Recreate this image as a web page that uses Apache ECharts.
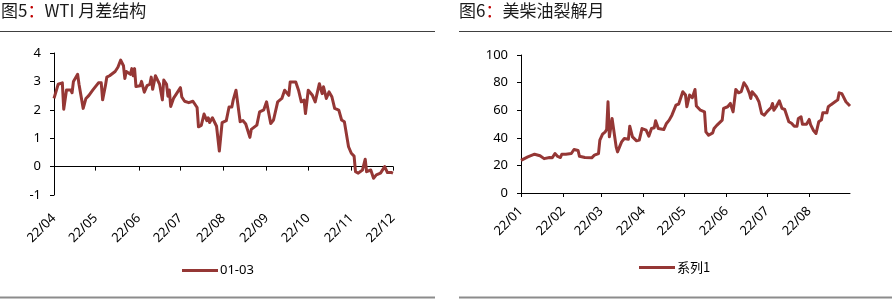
<!DOCTYPE html>
<html><head><meta charset="utf-8">
<script src="https://cdn.jsdelivr.net/npm/echarts@6/dist/echarts.min.js"></script>
<style>html,body{margin:0;padding:0;background:#fff}#c{width:892px;height:300px}</style>
</head><body><div id="c"></div>
<script>
// ---------- Chart 5: WTI month spread (01-03) ----------
const wtiDates = [
'2022-04-01','2022-04-04','2022-04-07','2022-04-08','2022-04-10','2022-04-13','2022-04-14','2022-04-15','2022-04-18','2022-04-19','2022-04-22','2022-04-24','2022-04-26','2022-04-29','2022-04-30',
'2022-05-03','2022-05-05','2022-05-06','2022-05-08','2022-05-09','2022-05-11','2022-05-15','2022-05-17','2022-05-19','2022-05-21','2022-05-22','2022-05-23','2022-05-26','2022-05-27','2022-05-28','2022-05-29','2022-05-30',
'2022-06-02','2022-06-03','2022-06-05','2022-06-07','2022-06-09','2022-06-10','2022-06-11','2022-06-13','2022-06-15','2022-06-16','2022-06-18','2022-06-19','2022-06-21','2022-06-22','2022-06-23','2022-06-24','2022-06-26','2022-06-28',
'2022-07-01','2022-07-02','2022-07-04','2022-07-07','2022-07-08','2022-07-10','2022-07-13','2022-07-14','2022-07-16','2022-07-18','2022-07-20','2022-07-21','2022-07-22','2022-07-24','2022-07-25','2022-07-27','2022-07-29','2022-07-31',
'2022-08-03','2022-08-05','2022-08-07','2022-08-08','2022-08-10','2022-08-13','2022-08-15','2022-08-17','2022-08-20','2022-08-21','2022-08-25','2022-08-27','2022-08-30',
'2022-09-01','2022-09-04','2022-09-06','2022-09-09','2022-09-12','2022-09-14','2022-09-17','2022-09-18','2022-09-22','2022-09-24','2022-09-26','2022-09-28','2022-09-29',
'2022-10-01','2022-10-04','2022-10-06','2022-10-09','2022-10-11','2022-10-12','2022-10-14','2022-10-16','2022-10-18','2022-10-20','2022-10-23','2022-10-25','2022-10-27','2022-10-30',
'2022-11-01','2022-11-03','2022-11-04','2022-11-06','2022-11-09','2022-11-11','2022-11-12','2022-11-15','2022-11-17','2022-11-19','2022-11-22','2022-11-25','2022-11-27','2022-11-30','2022-12-01'
];
const wtiValues = [
2.40,2.90,2.95,2.02,2.70,2.70,2.60,3.00,3.25,2.90,2.05,2.40,2.50,2.70,2.75,
2.95,2.95,2.35,2.85,3.15,3.20,3.35,3.50,3.75,3.55,3.10,3.35,3.25,3.45,3.20,3.45,2.82,
2.85,3.00,2.62,2.85,2.90,3.15,2.72,3.20,3.00,2.90,2.35,3.05,2.90,2.48,2.70,2.12,2.40,2.55,
2.78,2.45,2.30,2.25,2.20,2.30,2.08,1.40,1.45,1.85,1.62,1.72,1.55,1.72,1.70,1.42,0.55,1.55,
1.62,2.10,2.10,2.35,2.69,1.58,1.62,1.50,1.03,1.31,1.46,1.93,2.00,
2.28,1.52,1.64,2.28,2.40,2.69,2.51,2.98,2.98,2.69,2.28,2.34,1.87,
2.69,2.51,2.28,2.92,2.57,2.81,2.40,2.63,2.46,2.05,1.99,1.64,1.58,0.70,
0.47,0.37,-0.18,-0.23,-0.12,0.26,-0.18,-0.12,-0.41,-0.29,-0.23,0.00,-0.21,-0.21,-0.23
];
const wtiTickDates = ['2022-04-01','2022-05-01','2022-06-01','2022-07-01','2022-08-01','2022-09-01','2022-10-01','2022-11-01','2022-12-01'];
const wtiTickLabels = ['22/04','22/05','22/06','22/07','22/08','22/09','22/10','22/11','22/12'];
const wtiYTicks = {min: -1, max: 4, interval: 1};

// ---------- Chart 6: US diesel crack ----------
const crackDates = [
'2022-01-01','2022-01-06','2022-01-11','2022-01-15','2022-01-18','2022-01-22','2022-01-24','2022-01-26','2022-01-28','2022-01-30','2022-01-31',
'2022-02-03','2022-02-07','2022-02-09','2022-02-12','2022-02-13','2022-02-17','2022-02-22','2022-02-24','2022-02-27','2022-02-28',
'2022-03-02','2022-03-04','2022-03-05','2022-03-06','2022-03-07','2022-03-09','2022-03-10','2022-03-12','2022-03-13','2022-03-16','2022-03-18','2022-03-21','2022-03-22','2022-03-24','2022-03-27','2022-03-29','2022-03-31',
'2022-04-03','2022-04-05','2022-04-07','2022-04-09','2022-04-10','2022-04-12','2022-04-16','2022-04-18','2022-04-20','2022-04-22','2022-04-25','2022-04-27','2022-04-30',
'2022-05-02','2022-05-03','2022-05-05','2022-05-07','2022-05-09','2022-05-10','2022-05-13','2022-05-16','2022-05-17','2022-05-19','2022-05-22','2022-05-23','2022-05-25','2022-05-29','2022-05-30',
'2022-06-02','2022-06-04','2022-06-06','2022-06-08','2022-06-10','2022-06-12','2022-06-14','2022-06-16','2022-06-18','2022-06-19','2022-06-20','2022-06-23','2022-06-25','2022-06-27','2022-06-29',
'2022-07-01','2022-07-04','2022-07-05','2022-07-06','2022-07-08','2022-07-10','2022-07-12','2022-07-14','2022-07-17','2022-07-19','2022-07-21','2022-07-23','2022-07-24','2022-07-26','2022-07-27','2022-07-30',
'2022-08-01','2022-08-02','2022-08-04','2022-08-06','2022-08-08','2022-08-10','2022-08-11','2022-08-14','2022-08-15','2022-08-17','2022-08-20','2022-08-22','2022-08-23','2022-08-25','2022-08-28','2022-08-29','2022-08-31'
];
const crackValues = [
23.7,26.2,28.1,27.0,24.9,25.7,25.5,28.6,26.5,25.7,28.1,
28.1,28.6,31.5,30.8,26.6,25.7,25.5,27.4,28.6,38.3,
42.6,44.3,46.0,66.1,40.7,54.0,52.8,33.4,29.8,37.0,39.5,39.0,48.4,40.7,37.8,38.3,46.7,
45.5,41.2,46.7,47.3,52.3,46.7,46.0,50.4,52.8,56.4,63.7,64.5,73.4,
71.0,62.5,71.0,69.0,75.0,63.0,60.0,58.8,44.3,41.9,43.6,46.7,49.0,52.8,61.3,
62.5,64.9,58.8,75.0,72.6,73.5,79.9,77.0,72.2,68.5,73.4,70.0,66.1,57.6,56.4,
59.0,62.0,64.9,60.0,63.0,66.8,61.3,60.5,51.6,50.5,48.4,48.4,54.0,55.2,49.9,49.9,
53.3,49.5,45.5,43.1,51.6,53.0,58.1,58.1,62.5,64.0,66.1,67.5,72.6,72.0,66.1,67.0,63.0
];
const crackTickDates = ['2022-01-01','2022-02-01','2022-03-01','2022-04-01','2022-05-01','2022-06-01','2022-07-01','2022-08-01'];
const crackTickLabels = ['22/01','22/02','22/03','22/04','22/05','22/06','22/07','22/08'];
const crackYTicks = {min: 0, max: 100, interval: 20};

const titles = ['图5', 'WTI 月差结构', '图6', '美柴油裂解月'];
const seriesNames = ['01-03', '系列1'];

// ---------- build ----------
const FONT = '"Noto Sans", "Noto Sans CJK SC", sans-serif';
const CJK = '"Noto Sans CJK SC", "Noto Sans", sans-serif';
const LINE = '#953735';
const ts = s => echarts.time.parse(s).getTime();
function pairs(d, v) { return d.map((x, i) => [ts(x), v[i]]); }
function tickFmt(dates, labels) {
  const nums = dates.map(ts);
  return function (val) { const i = nums.indexOf(+val); return i >= 0 ? labels[i] : ''; };
}
function xAxisCfg(g, dates, labels, min, max, margin, onZero) {
  return {
    type: 'value', gridIndex: g, min: ts(min), max: ts(max),
    axisLine: { show: true, onZero: onZero, lineStyle: { color: '#000', width: 1 } },
    axisTick: { show: true, customValues: dates.map(ts), length: 4, lineStyle: { color: '#000' } },
    axisLabel: { customValues: dates.map(ts), formatter: tickFmt(dates, labels), rotate: 45, margin: margin,
      fontSize: 13, color: '#000', fontFamily: FONT, hideOverlap: false, showMinLabel: true, showMaxLabel: true },
    splitLine: { show: false }, minorTick: { show: false }
  };
}
function yAxisCfg(g, t) {
  return {
    type: 'value', gridIndex: g, min: t.min, max: t.max, interval: t.interval,
    axisLine: { show: true, onZero: false, lineStyle: { color: '#000', width: 1 } },
    axisTick: { show: true, length: 4, lineStyle: { color: '#000' } },
    axisLabel: { margin: 13, fontSize: 13, color: '#000', fontFamily: FONT },
    splitLine: { show: false }
  };
}
const titleStyle = (sz) => ({ fontSize: sz, fontWeight: 'normal', color: '#1a1a1a', fontFamily: CJK,
  rich: { r: { color: '#c00000', fontSize: sz, fontFamily: CJK } } });

const chart = echarts.init(document.getElementById('c'), null, { renderer: 'canvas' });
chart.setOption({
  animation: false,
  backgroundColor: '#fff',
  title: [
    { text: titles[0] + '{r|：}' + titles[1], left: 1, top: 2, padding: 0, textStyle: titleStyle(17) },
    { text: titles[2] + '{r|：}' + titles[3], left: 459, top: 2, padding: 0, textStyle: titleStyle(17) }
  ],
  graphic: [
    { type: 'line', shape: { x1: 0, y1: 31.5, x2: 435, y2: 31.5 }, style: { stroke: '#404040', lineWidth: 1.2 } },
    { type: 'line', shape: { x1: 459, y1: 31.5, x2: 892, y2: 31.5 }, style: { stroke: '#404040', lineWidth: 1.2 } },
    { type: 'line', shape: { x1: 0, y1: 297.5, x2: 435, y2: 297.5 }, style: { stroke: '#8c8c8c', lineWidth: 2 } },
    { type: 'line', shape: { x1: 459, y1: 297.5, x2: 892, y2: 297.5 }, style: { stroke: '#8c8c8c', lineWidth: 2 } }
  ],
  grid: [
    { left: 54, top: 53, width: 339, height: 142, outerBoundsMode: 'none', containLabel: false },
    { left: 521, top: 55, width: 329, height: 138, outerBoundsMode: 'none', containLabel: false }
  ],
  xAxis: [
    xAxisCfg(0, wtiTickDates, wtiTickLabels, '2022-04-01', '2022-12-01', 21, true),
    xAxisCfg(1, crackTickDates, crackTickLabels, '2022-01-01', '2022-08-31', 16, false)
  ],
  yAxis: [ yAxisCfg(0, wtiYTicks), yAxisCfg(1, crackYTicks) ],
  legend: [
    { data: [seriesNames[0]], left: 182, top: 264, padding: 0, icon: 'rect', itemWidth: 36, itemHeight: 3,
      textStyle: { fontSize: 13, color: '#000', fontFamily: FONT, padding: [0, 0, 0, -3] } },
    { data: [seriesNames[1]], left: 639, top: 261, padding: 0, icon: 'rect', itemWidth: 36, itemHeight: 3,
      textStyle: { fontSize: 13, color: '#000', fontFamily: CJK, padding: [0, 0, 0, -3] } }
  ],
  series: [
    { name: seriesNames[0], type: 'line', xAxisIndex: 0, yAxisIndex: 0, data: pairs(wtiDates, wtiValues),
      showSymbol: false, symbol: 'none', color: LINE, lineStyle: { width: 3, color: LINE, join: 'round' } },
    { name: seriesNames[1], type: 'line', xAxisIndex: 1, yAxisIndex: 1, data: pairs(crackDates, crackValues),
      showSymbol: false, symbol: 'none', color: LINE, lineStyle: { width: 3, color: LINE, join: 'round' } }
  ]
});
</script></body></html>
